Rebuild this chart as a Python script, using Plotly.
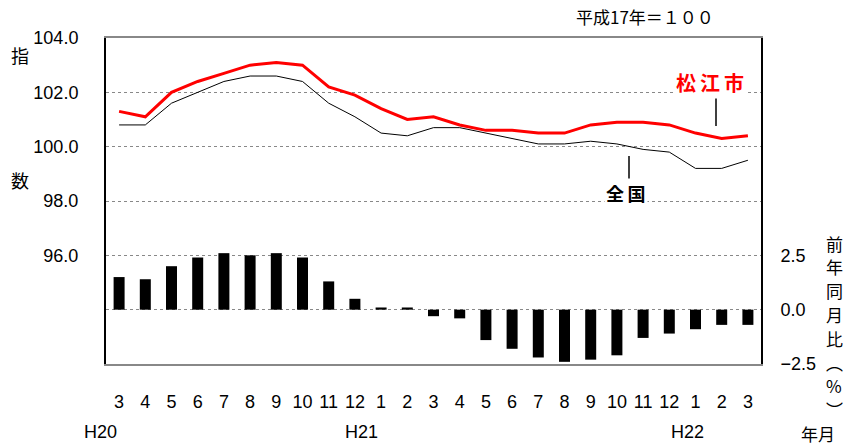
import plotly.graph_objects as go

months = ["3", "4", "5", "6", "7", "8", "9", "10", "11", "12",
          "1", "2", "3", "4", "5", "6", "7", "8", "9", "10", "11", "12",
          "1", "2", "3"]
matsue = [101.3, 101.1, 102.0, 102.4, 102.7, 103.0, 103.1, 103.0, 102.2, 101.9,
          101.4, 101.0, 101.1, 100.8, 100.6, 100.6, 100.5, 100.5, 100.8, 100.9,
          100.9, 100.8, 100.5, 100.3, 100.4]
zenkoku = [100.8, 100.8, 101.6, 102.0, 102.4, 102.6, 102.6, 102.4, 101.6, 101.1,
           100.5, 100.4, 100.7, 100.7, 100.5, 100.3, 100.1, 100.1, 100.2, 100.1,
           99.9, 99.8, 99.2, 99.2, 99.5]
yoy = [1.5, 1.4, 2.0, 2.4, 2.6, 2.5, 2.6, 2.4, 1.3, 0.5,
       0.1, 0.1, -0.3, -0.4, -1.4, -1.8, -2.2, -2.4, -2.3, -2.1,
       -1.3, -1.1, -0.9, -0.7, -0.7]
left_grid = [94, 96, 98, 100, 102, 104]
left_labels = ["", "96.0", "98.0", "100.0", "102.0", "104.0"]
right_ticks = [-2.5, 0.0, 2.5]
right_labels = ["−2.5", "0.0", "2.5"]
eras = [("H20", 100), ("H21", 361), ("H22", 687)]

x = list(range(len(months)))
NUM = "Liberation Sans, Arial, sans-serif"
JP = "Noto Sans CJK JP"
W, H = 843, 447
L, R, T, B = 106, 82, 38, 83

fig = go.Figure()
fig.add_trace(go.Bar(x=x, y=yoy, yaxis="y2", marker=dict(color="black", line=dict(width=0)),
                     width=0.42, showlegend=False))
fig.add_trace(go.Scatter(x=x, y=zenkoku, mode="lines", line=dict(color="black", width=1),
                         showlegend=False))
fig.add_trace(go.Scatter(x=x, y=matsue, mode="lines", line=dict(color="#ff0000", width=3),
                         showlegend=False))

fig.update_layout(
    width=W, height=H,
    margin=dict(l=L, r=R, t=T, b=B),
    paper_bgcolor="white", plot_bgcolor="white",
    xaxis=dict(range=[-0.5, len(months) - 0.5], tickvals=x, ticktext=months,
               showgrid=False, zeroline=False, showline=True, linecolor="#888",
               linewidth=2, mirror=True, ticks="", ticklabelstandoff=20,
               tickfont=dict(family=NUM, size=18, color="black")),
    yaxis=dict(range=[92, 104], tickvals=left_grid, ticktext=left_labels,
               showgrid=True, gridcolor="#888", griddash="dot", gridwidth=1,
               zeroline=False, showline=True, linecolor="black", linewidth=2,
               ticks="", ticklabelstandoff=22,
               tickfont=dict(family=NUM, size=18, color="black")),
    yaxis2=dict(range=[-2.5, 12.5], tickvals=right_ticks, ticktext=right_labels,
                overlaying="y", side="right", showgrid=False, zeroline=False,
                showline=True, linecolor="black", linewidth=2, ticks="",
                ticklabelstandoff=14,
                tickfont=dict(family=NUM, size=18, color="black")),
)


def px(xp, yp):
    return (xp - L) / (W - L - R), 1 - (yp - T) / (H - T - B)


def add(text, xp, yp, size=17, color="black", xanchor="center", bg=None, family=JP):
    xx, yy = px(xp, yp)
    d = dict(text=text, x=xx, y=yy, xref="paper", yref="paper", showarrow=False,
             xanchor=xanchor, yanchor="middle",
             font=dict(family=family, size=size, color=color))
    if bg:
        d["bgcolor"] = bg
    fig.add_annotation(**d)


add("平成17年＝１００", 645, 17, size=17)
add("指", 20, 55, size=18)
add("数", 20, 180, size=18)
add("<b>松\u2009江\u2009市</b>", 710, 82, size=20, color="#ff0000", bg="white")
add("<b>全\u2009国</b>", 626, 193, size=18, bg="white")
for name, xp in eras:
    add(name, xp, 432, size=18, family=NUM)
vert = ["前", "年", "同", "月", "比", "︵", "%", "︶"]
for i, ch in enumerate(vert):
    add(ch, 834, 243 + i * 23.8, size=17)
add("年月", 818, 433, size=17)

# leader lines
for (xp, y0, y1) in [(716, 97, 126), (629, 156, 184)]:
    x0, yy0 = px(xp, y0)
    _, yy1 = px(xp, y1)
    fig.add_shape(type="line", xref="paper", yref="paper", x0=x0, x1=x0, y0=yy0, y1=yy1,
                  line=dict(color="black", width=1.5))

fig.write_html("out.html", post_script="document.body.style.margin='0';",
               config={"displayModeBar": False})
